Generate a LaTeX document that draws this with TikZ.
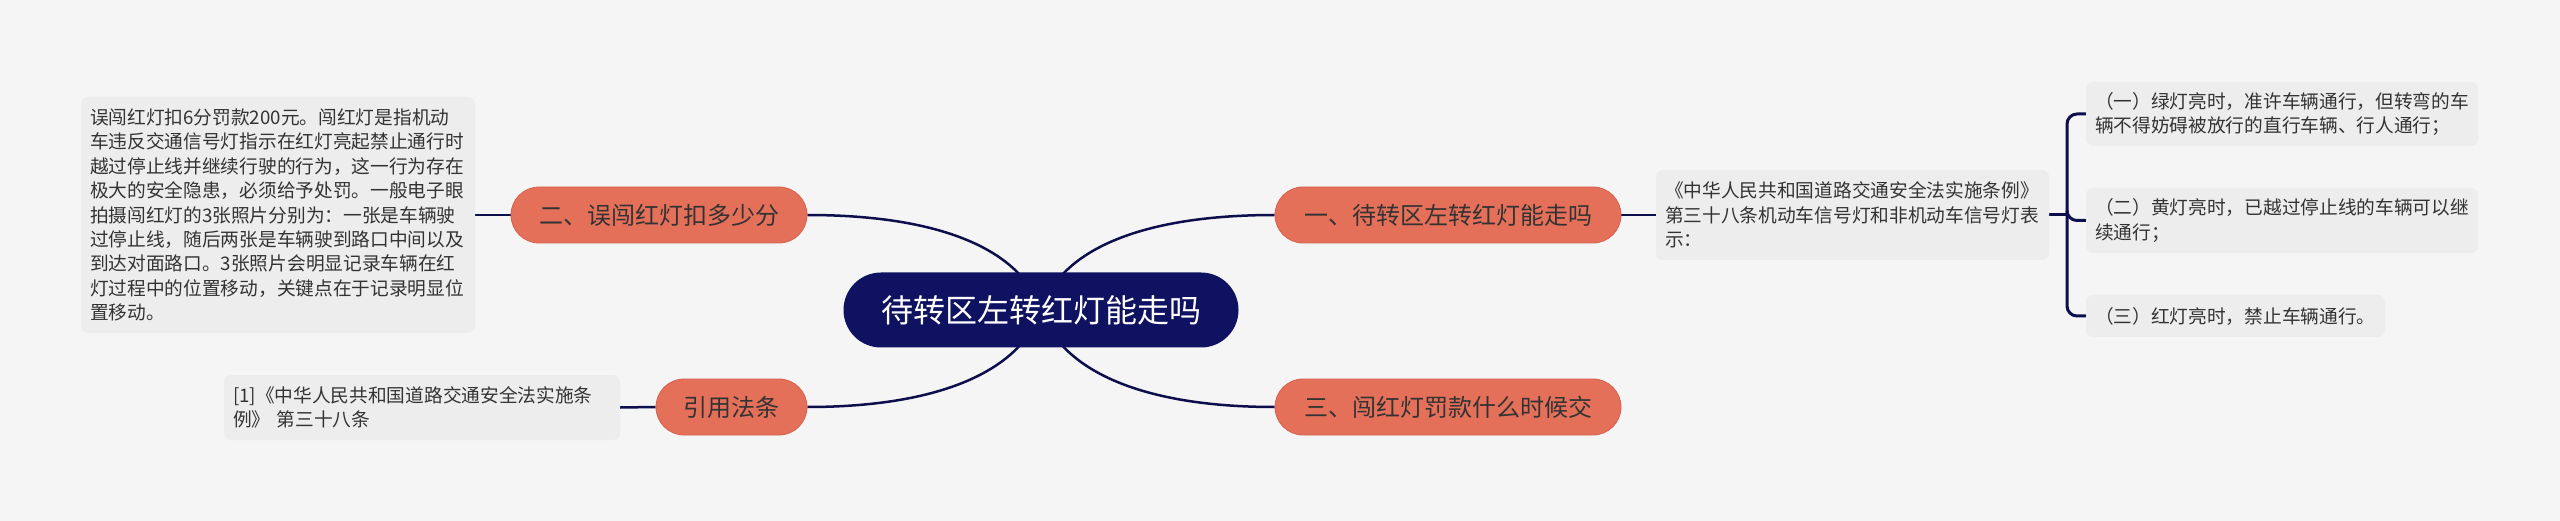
\documentclass[tikz,border=0pt]{standalone}
\usepackage{fontspec}
\setmainfont{Noto Sans CJK SC}
\usetikzlibrary{backgrounds}
\definecolor{bg}{HTML}{F5F5F5}
\definecolor{boxgray}{HTML}{EDEDED}
\definecolor{salmon}{HTML}{E5705A}
\definecolor{salmonline}{HTML}{D5614D}
\definecolor{navy}{HTML}{0E1260}
\definecolor{linkc}{HTML}{0C0F4C}
\definecolor{txt}{HTML}{333333}
\begin{document}
\begin{tikzpicture}[x=1pt,y=-1pt,
  pill/.style={rectangle, rounded corners=28pt, fill=salmon, draw=salmonline, line width=0.8pt,
    minimum height=56pt, inner sep=0pt, text=txt, font=\fontsize{24}{28}\selectfont},
  tbox/.style={rectangle, rounded corners=7pt, fill=boxgray, inner xsep=9pt, inner ysep=0pt,
    align=left, text=txt, font=\fontsize{18.7}{24.4}\selectfont},
  link/.style={draw=linkc, line width=2.5pt},
  bracket/.style={draw=linkc, line width=3pt, rounded corners=10pt}
]
\useasboundingbox (0,0) rectangle (2560,521);

% central topic
\node[rectangle, rounded corners=37.5pt, fill=navy, minimum width=395pt, minimum height=75pt,
  inner sep=0pt, text=white, font=\fontsize{32}{36}\selectfont] (c) at (1041,310) {待转区左转红灯能走吗};

% main branches
\node[pill, minimum width=346pt] (n1) at (1448,215) {一、待转区左转红灯能走吗};
\node[pill, minimum width=346pt] (n3) at (1448,407) {三、闯红灯罚款什么时候交};
\node[pill, minimum width=296pt] (n2) at (659,215) {二、误闯红灯扣多少分};
\node[pill, minimum width=151pt] (n4) at (731.5,407) {引用法条};

% text boxes
\node[tbox, text width=376pt, minimum height=236pt] (lb) at (278,215)
  {误闯红灯扣6分罚款200元。闯红灯是指机动\\车违反交通信号灯指示在红灯亮起禁止通行时\\越过停止线并继续行驶的行为，这一行为存在\\极大的安全隐患，必须给予处罚。一般电子眼\\拍摄闯红灯的3张照片分别为：一张是车辆驶\\过停止线，随后两张是车辆驶到路口中间以及\\到达对面路口。3张照片会明显记录车辆在红\\灯过程中的位置移动，关键点在于记录明显位\\置移动。};
\node[tbox, text width=378pt, minimum height=65pt] (ref) at (422,407.5)
  {[1]《中华人民共和国道路交通安全法实施条\\例》 第三十八条};
\node[tbox, text width=375pt, minimum height=90pt] (rb) at (1852.5,215)
  {《中华人民共和国道路交通安全法实施条例》\\第三十八条机动车信号灯和非机动车信号灯表\\示：};
\node[tbox, text width=374pt, minimum height=64pt] (g1) at (2282,114)
  {（一）绿灯亮时，准许车辆通行，但转弯的车\\辆不得妨碍被放行的直行车辆、行人通行；};
\node[tbox, text width=374pt, minimum height=65pt] (g2) at (2282,220.5)
  {（二）黄灯亮时，已越过停止线的车辆可以继\\续通行；};
\node[tbox, text width=281pt, minimum height=42pt] (g3) at (2235.5,316)
  {（三）红灯亮时，禁止车辆通行。};

\coordinate (j) at (2067,215);

\begin{pgfonlayer}{background}
  \fill[bg] (0,0) rectangle (2560,521);
  \draw[link] (c.center) .. controls +(20,-60) and +(-134,0) .. (n1.west);
  \draw[link] (c.center) .. controls +(20,60) and +(-134,0) .. (n3.west);
  \draw[link] (c.center) .. controls +(-20,-60) and +(134,0) .. (n2.east);
  \draw[link] (c.center) .. controls +(-20,60) and +(134,0) .. (n4.east);
  \draw[link] (n1.east) -- (rb.west);
  \draw[link] (n2.west) -- (lb.east);
  \draw[link] (n4.west) -- (ref.east);
  \draw[bracket] (rb.east) -- (j);
  \draw[bracket] (j) |- (g1.west);
  \draw[bracket] (j) |- (g2.west);
  \draw[bracket] (j) |- (g3.west);
\end{pgfonlayer}
\end{tikzpicture}
\end{document}
